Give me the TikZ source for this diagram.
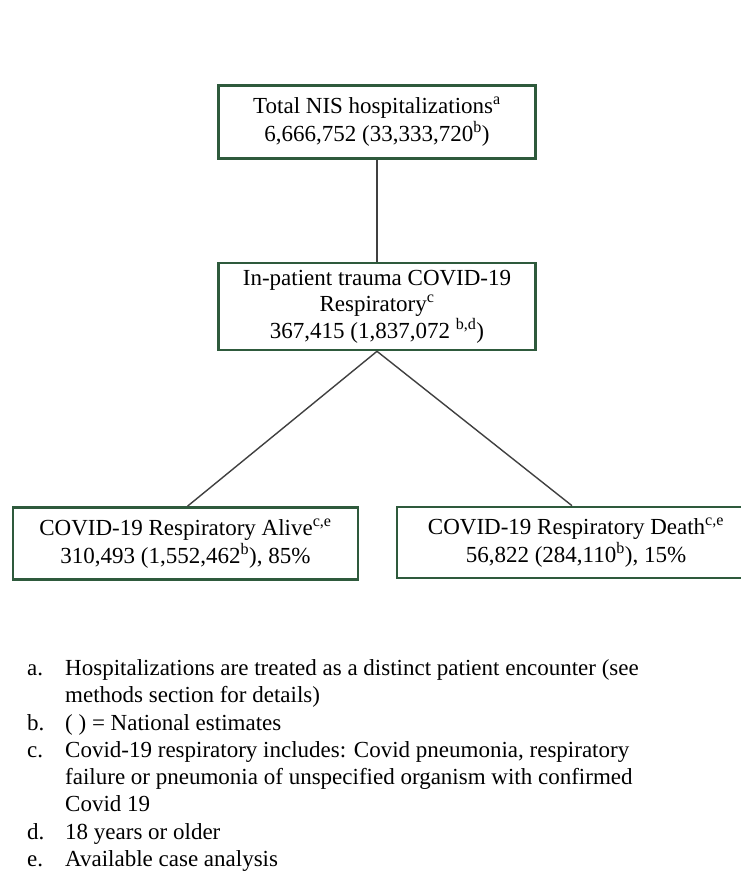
\documentclass[tikz,border=0pt]{standalone}
\usepackage{fontspec}
\setmainfont{Liberation Serif}
\definecolor{boxgreen}{HTML}{2E5A3C}
\definecolor{linegray}{HTML}{404040}
\tikzset{
  flowbox/.style={draw=boxgreen, line width=2.6pt, fill=white, align=center, inner sep=0pt,
    font=\fontsize{23}{28}\selectfont},
  conn/.style={draw=linegray, line width=1.4pt},
  fnletter/.style={anchor=base west, inner sep=0pt, font=\fontsize{23}{27.3}\selectfont},
  fntext/.style={anchor=base west, inner sep=0pt, font=\fontsize{23}{27.3}\selectfont}
}
\begin{document}
\begin{tikzpicture}[x=1pt,y=-1pt]
\useasboundingbox[fill=white] (0,0) rectangle (741,876);
% boxes
\node[flowbox, minimum width=317pt, minimum height=73pt] (total) at (377,122)
  {Total NIS hospitalizations\textsuperscript{a}\\6,666,752 (33,333,720\textsuperscript{b})};
\node[flowbox, minimum width=317pt, minimum height=87pt, font=\fontsize{23}{26.5}\selectfont] (inpat) at (377,306.5)
  {In-patient trauma COVID-19\\Respiratory\textsuperscript{c}\\367,415 (1,837,072 \textsuperscript{b,d})};
\node[flowbox, minimum width=345pt, minimum height=72pt] (alive) at (185.5,543.5)
  {COVID-19 Respiratory Alive\textsuperscript{c,e}\\310,493 (1,552,462\textsuperscript{b}), 85\%};
\node[flowbox, minimum width=358pt, minimum height=71pt] (death) at (576,542.5)
  {COVID-19 Respiratory Death\textsuperscript{c,e}\\56,822 (284,110\textsuperscript{b}), 15\%};
% connectors
\draw[conn] (total.south) -- (inpat.north);
\coordinate (split) at (inpat.south);
\draw[conn] (split) -- ([xshift=2pt]alive.north);
\draw[conn] (split) -- ([xshift=-4pt]death.north);
% footnotes
\node[fnletter] (la) at (27,675) {a.};
\node[fntext] (fa1) at (65,675) {Hospitalizations are treated as a distinct patient encounter (see};
\node[fntext] (fa2) at (65,702) {methods section for details)};
\node[fnletter] (lb) at (27,730) {b.};
\node[fntext] (fb) at (65,730) {( ) = National estimates};
\node[fnletter] (lc) at (27,757) {c.};
\node[fntext] (fc1) at (65,757) {Covid-19 respiratory includes: Covid pneumonia, respiratory};
\node[fntext] (fc2) at (65,784) {failure or pneumonia of unspecified organism with confirmed};
\node[fntext] (fc3) at (65,811) {Covid 19};
\node[fnletter] (ld) at (27,839) {d.};
\node[fntext] (fd) at (65,839) {18 years or older};
\node[fnletter] (le) at (27,866) {e.};
\node[fntext] (fe) at (65,866) {Available case analysis};
\end{tikzpicture}
\end{document}
